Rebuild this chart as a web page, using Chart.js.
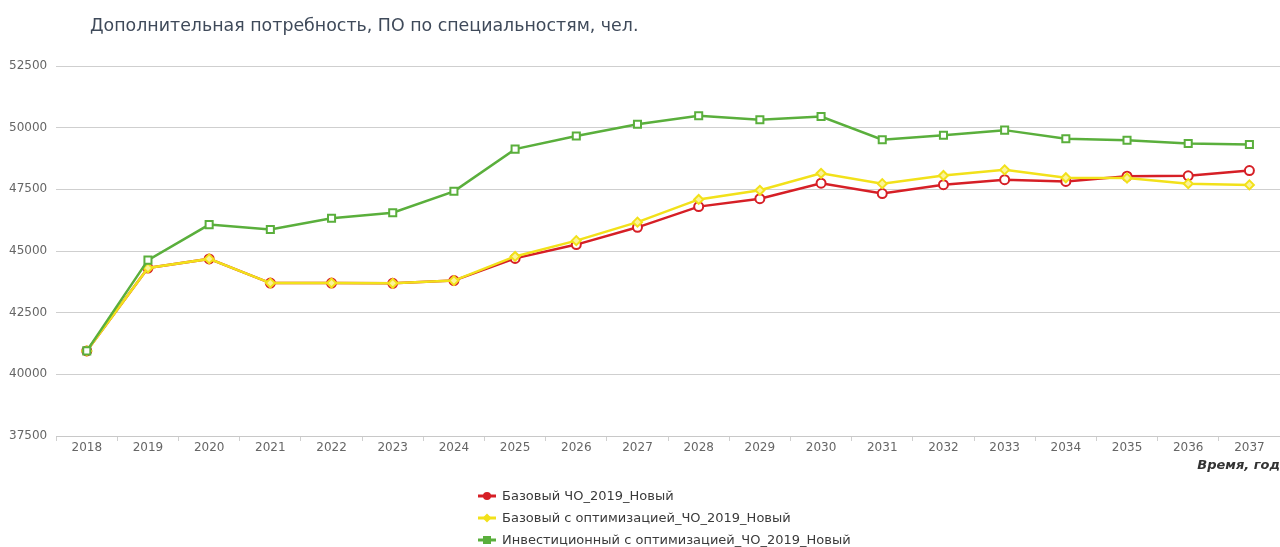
<!DOCTYPE html>
<html>
<head>
<meta charset="utf-8">
<script src="https://cdn.jsdelivr.net/npm/chart.js@4.4.0/dist/chart.umd.min.js"></script>
<style>
    html, body { margin: 0; padding: 0; background: #fff; }
    #wrap { position: relative; width: 1280px; height: 547px; overflow: hidden; }
    #chart { position: absolute; left: 0; top: 0; }
    #title {
        position: absolute; left: 90px; top: 15px;
        font-family: 'DejaVu Sans', sans-serif; font-size: 17.4px; color: #3f4a5a;
    }
    #legend {
        position: absolute; left: 478px; top: 485px;
        font-family: 'DejaVu Sans', sans-serif; font-size: 13px; color: #3a3a3a;
    }
    #legend .item { height: 22px; line-height: 22px; display: flex; align-items: center; }
    #legend svg { margin-right: 6px; }
</style>
</head>
<body>
<div id="wrap">
    <!-- canvas a little wider than the page: Chart.js keeps ~7px on the right for the last label -->
    <canvas id="chart" width="1287" height="547"></canvas>
    <div id="title">Дополнительная потребность, ПО по специальностям, чел.</div>
    <div id="legend"></div>
</div>
<script>
// Data
const years = ['2018','2019','2020','2021','2022','2023','2024','2025','2026','2027',
               '2028','2029','2030','2031','2032','2033','2034','2035','2036','2037'];

const baseValues = [40950, 44310, 44680, 43700, 43700, 43690, 43800, 44700, 45260, 45960,
                    46800, 47120, 47750, 47330, 47690, 47890, 47820, 48030, 48050, 48260];

const baseOptValues = [40950, 44310, 44680, 43700, 43700, 43690, 43800, 44780, 45420, 46170,
                       47090, 47460, 48150, 47730, 48060, 48290, 47970, 47960, 47730, 47680];

const investOptValues = [40950, 44630, 46070, 45870, 46330, 46550, 47420, 49130, 49660, 50140,
                         50480, 50320, 50450, 49510, 49690, 49900, 49550, 49490, 49360, 49320];

const seriesNames = ['Базовый ЧО_2019_Новый',
                     'Базовый с оптимизацией_ЧО_2019_Новый',
                     'Инвестиционный с оптимизацией_ЧО_2019_Новый'];

const RED = '#d61f26';
const YELLOW = '#f2e11a';
const GREEN = '#5aaf3c';

const ctx = document.getElementById('chart').getContext('2d');

const chart = new Chart(ctx, {
    type: 'line',
    data: {
        labels: years,
        datasets: [
            {
                label: seriesNames[0],
                data: baseValues,
                borderColor: RED,
                backgroundColor: RED,
                borderWidth: 2.5,
                pointStyle: 'circle',
                pointRadius: 4.5,
                pointBorderWidth: 2,
                pointBackgroundColor: '#fff',
                pointBorderColor: RED,
                order: 3
            },
            {
                label: seriesNames[1],
                data: baseOptValues,
                borderColor: YELLOW,
                backgroundColor: YELLOW,
                borderWidth: 2.5,
                pointStyle: 'rectRot',
                pointRadius: 4.5,
                pointBorderWidth: 2,
                pointBackgroundColor: '#fbf39a',
                pointBorderColor: YELLOW,
                order: 2
            },
            {
                label: seriesNames[2],
                data: investOptValues,
                borderColor: GREEN,
                backgroundColor: GREEN,
                borderWidth: 2.5,
                pointStyle: 'rect',
                pointRadius: 5,
                pointBorderWidth: 2,
                pointBackgroundColor: '#fff',
                pointBorderColor: GREEN,
                order: 1
            }
        ]
    },
    options: {
        responsive: false,
        animation: false,
        layout: { padding: { top: 66, left: 0, right: 0, bottom: 74 } },
        plugins: {
            legend: { display: false },
            title: { display: false },
            tooltip: { enabled: false }
        },
        scales: {
            x: {
                offset: true,
                grid: {
                    offset: true,
                    drawOnChartArea: false,
                    drawTicks: true,
                    tickLength: 5,
                    color: '#d0d0d0'
                },
                border: { color: '#c8c8c8', width: 1 },
                ticks: {
                    color: '#666',
                    font: { family: 'DejaVu Sans', size: 12 },
                    padding: 0,
                    maxRotation: 0,
                    autoSkip: false
                },
                title: {
                    display: true,
                    text: 'Время, год',
                    align: 'end',
                    color: '#333',
                    font: { family: 'DejaVu Sans', size: 13, weight: 'bold', style: 'italic' },
                    padding: { top: 2, bottom: 0 }
                }
            },
            y: {
                min: 37500,
                max: 52500,
                ticks: {
                    stepSize: 2500,
                    color: '#666',
                    font: { family: 'DejaVu Sans', size: 12 },
                    padding: 9,
                    callback: (v) => String(v)
                },
                grid: {
                    color: '#cfcfcf',
                    drawTicks: false
                },
                border: { display: false }
            }
        }
    }
});

// HTML legend, stacked vertically like the original
const markerSvg = (ds) => {
    let marker = '';
    if (ds.pointStyle === 'circle') {
        marker = `<circle cx="9" cy="6" r="4" fill="${ds.borderColor}"/>`;
    } else if (ds.pointStyle === 'rectRot') {
        marker = `<polygon points="9,1.5 13.5,6 9,10.5 4.5,6" fill="${ds.borderColor}"/>`;
    } else {
        marker = `<rect x="5" y="2" width="8" height="8" fill="${ds.borderColor}"/>`;
    }
    return `<svg width="18" height="12"><line x1="0" y1="6" x2="18" y2="6" stroke="${ds.borderColor}" stroke-width="3"/>${marker}</svg>`;
};

const legendEl = document.getElementById('legend');
chart.data.datasets.forEach(ds => {
    const item = document.createElement('div');
    item.className = 'item';
    item.innerHTML = markerSvg(ds) + `<span>${ds.label}</span>`;
    legendEl.appendChild(item);
});
</script>
</body>
</html>
